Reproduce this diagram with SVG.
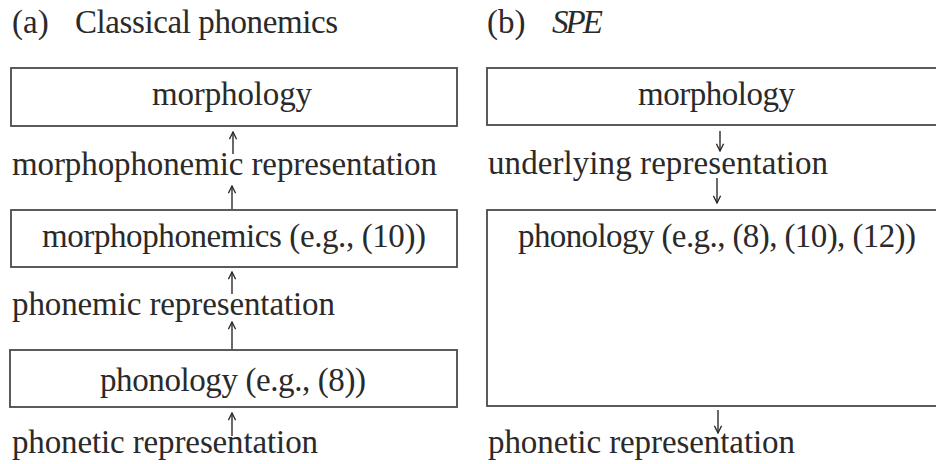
<svg xmlns="http://www.w3.org/2000/svg" width="936" height="464" viewBox="0 0 936 464">
<style>
text{font-family:"Liberation Serif","Times New Roman",serif;font-size:33px;fill:#2a2a2a}
.box{fill:none;stroke:#4a4a4a;stroke-width:1.8}
.c{stroke:#2a2a2a;stroke-width:1.4;fill:none}
</style>
<defs>
<marker id="ah" viewBox="0 0 10 10" refX="9" refY="5" markerWidth="9" markerHeight="9" markerUnits="userSpaceOnUse" orient="auto">
<path d="M1,1 L9,5 L1,9" fill="none" stroke="#2a2a2a" stroke-width="1.5"/>
</marker>
</defs>
<rect width="936" height="464" fill="#fff"/>
<g id="titles">
<text x="12" y="33">(a)</text>
<text x="75" y="33" textLength="263">Classical phonemics</text>
<text x="487" y="33">(b)</text>
<text x="552" y="33" font-style="italic" textLength="51">SPE</text>
</g>
<g id="a-morphology">
<rect class="box" x="11" y="68" width="446" height="58"/>
<text x="152" y="105" textLength="160">morphology</text>
</g>
<g id="a-morphophonemic-rep">
<text x="12" y="175" textLength="425">morphophonemic representation</text>
</g>
<g id="a-morphophonemics">
<rect class="box" x="11" y="210" width="446" height="57"/>
<text x="42" y="247" textLength="384">morphophonemics (e.g., (10))</text>
</g>
<g id="a-phonemic-rep">
<text x="12" y="315" textLength="323">phonemic representation</text>
</g>
<g id="a-phonology">
<rect class="box" x="10" y="350" width="447" height="57"/>
<text x="100" y="391" textLength="266">phonology (e.g., (8))</text>
</g>
<g id="a-phonetic-rep">
<text x="12" y="453" textLength="306">phonetic representation</text>
</g>
<g id="b-morphology">
<rect class="box" x="487" y="68" width="470" height="57"/>
<text x="638" y="105" textLength="157">morphology</text>
</g>
<g id="b-underlying-rep">
<text x="488" y="174" textLength="340">underlying representation</text>
</g>
<g id="b-phonology">
<rect class="box" x="487" y="210" width="470" height="196"/>
<text x="518" y="247" textLength="398">phonology (e.g., (8), (10), (12))</text>
</g>
<g id="b-phonetic-rep">
<text x="488" y="453" textLength="307">phonetic representation</text>
</g>
<g id="connectors">
<line class="c" x1="233" y1="154" x2="233" y2="132" marker-end="url(#ah)"/>
<line class="c" x1="232" y1="209" x2="232" y2="186" marker-end="url(#ah)"/>
<line class="c" x1="232" y1="294" x2="232" y2="272" marker-end="url(#ah)"/>
<line class="c" x1="232" y1="349" x2="232" y2="322" marker-end="url(#ah)"/>
<line class="c" x1="232" y1="436" x2="232" y2="413" marker-end="url(#ah)"/>
<line class="c" x1="720" y1="131" x2="720" y2="151" marker-end="url(#ah)"/>
<line class="c" x1="717" y1="178" x2="717" y2="203" marker-end="url(#ah)"/>
<line class="c" x1="718" y1="410" x2="718" y2="433" marker-end="url(#ah)"/>
</g>
</svg>
